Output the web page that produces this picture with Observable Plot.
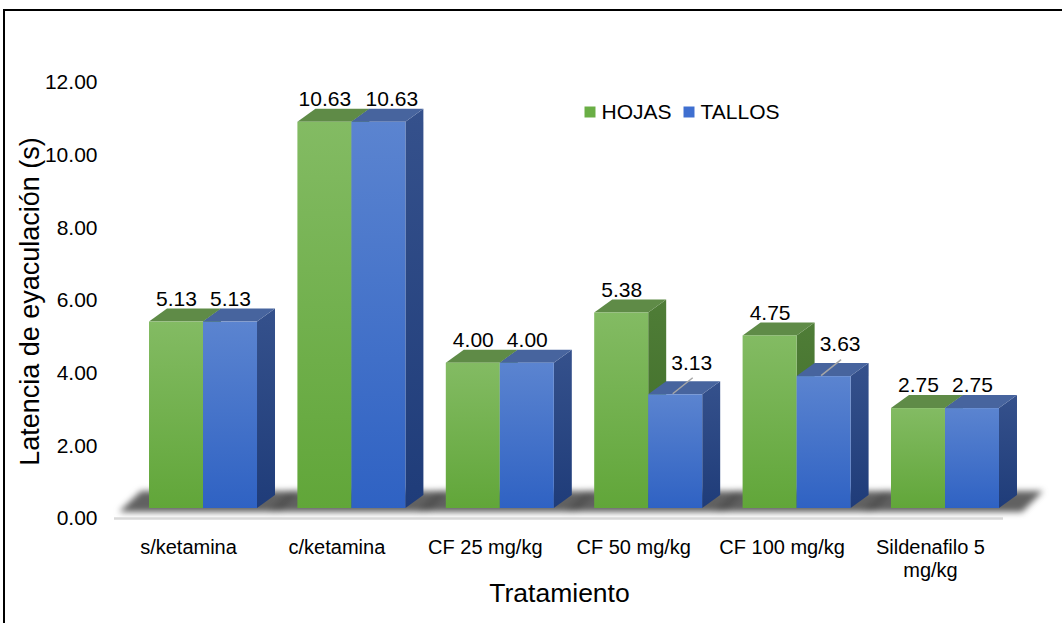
<!DOCTYPE html>
<html lang="es">
<head>
<meta charset="utf-8">
<title>Latencia de eyaculación por tratamiento</title>
<script src="https://cdn.jsdelivr.net/npm/d3@7"></script>
<script src="https://cdn.jsdelivr.net/npm/@observablehq/plot@0.6"></script>
<style>
  html, body { margin: 0; padding: 0; background: #fff; }
  #wrap { position: relative; width: 1062px; height: 623px; overflow: hidden; }
  #wrap svg { display: block; }
  #edge { position: absolute; left: 3px; top: 9px; right: -4px; bottom: -4px;
          border-top: 2px solid #000; border-left: 2px solid #000; pointer-events: none; }
</style>
</head>
<body>
<div id="wrap"><div id="edge"></div></div>
<script>
// Tratamientos (eje X)
const categories = ["s/ketamina", "c/ketamina", "CF 25 mg/kg", "CF 50 mg/kg", "CF 100 mg/kg", "Sildenafilo 5\nmg/kg"];
// Series
const seriesNames = ["HOJAS", "TALLOS"];
const hojas  = [5.13, 10.63, 4.00, 5.38, 4.75, 2.75];
const tallos = [5.13, 10.63, 4.00, 3.13, 3.63, 2.75];
// Eje Y
const yTicks = [0, 2, 4, 6, 8, 10, 12];

const W = 1062, H = 623;
const margin = {top: 72, right: 25, bottom: 115, left: 111};
const xDomain = [-0.62, 5.62];
const yDomain = [0, 12];
const kx = (W - margin.left - margin.right) / (xDomain[1] - xDomain[0]); // px por categoría
const ky = (H - margin.top - margin.bottom) / (yDomain[1] - yDomain[0]); // px por segundo

// geometría de las columnas 3D (en unidades de datos)
const barW = 54 / kx, depthX = 18 / kx, depthY = 13 / ky;

const palette = {
  HOJAS:  {top: "#5f8b47", legend: "#6aae45"},
  TALLOS: {top: "#47649e", legend: "#3f6fd0"}
};

const fmt = d3.format(".2f");

const bars = [];
seriesNames.forEach((s, k) => {
  const values = k === 0 ? hojas : tallos;
  categories.forEach((c, i) => {
    const x1 = i - barW + k * barW;
    bars.push({id: `${s}-${i}`, series: s, cat: c, i, value: values[i], x1, x2: x1 + barW, xc: x1 + barW / 2});
  });
});
const bySeries = s => bars.filter(b => b.series === s);

// caras superiores (paralelogramos horizontales)
const topFace = s => bySeries(s).flatMap(b => [
  {id: b.id, y: b.value, x1: b.x1, x2: b.x2},
  {id: b.id, y: b.value + depthY, x1: b.x1 + depthX, x2: b.x2 + depthX}
]);
// caras laterales (paralelogramos verticales)
const sideFace = s => bySeries(s).flatMap(b => [
  {id: b.id, x: b.x2, y1: 0, y2: b.value},
  {id: b.id, x: b.x2 + depthX, y1: depthY, y2: b.value + depthY}
]);
// sombra en el suelo por grupo
const shadows = categories.flatMap((c, i) => {
  const gL = i - barW, gR = i + barW;
  return [
    {id: i, y: -4 / ky, x1: gL - 30 / kx, x2: gR + 23 / kx},
    {id: i, y: 17 / ky, x1: gL - 8 / kx, x2: gR + 44 / kx}
  ];
});

// etiqueta desplazada con línea guía cuando la columna vecina la tapa
const needsCallout = b => b.series === "TALLOS" && hojas[b.i] - b.value > 0.5;
// etiquetas gemelas demasiado anchas: la segunda se corre a la derecha
const labelShift = b => (b.series === "TALLOS" && hojas[b.i] === b.value && fmt(b.value).length > 4) ? 13 : 0;
const plainLabels = bars.filter(b => !needsCallout(b));
const calloutLabels = bars.filter(needsCallout);

const font = "'Liberation Sans', Arial, Helvetica, sans-serif";
const pxX = px => xDomain[0] + (px - margin.left) / kx;

// leyenda: posición de cada muestra respecto a la esquina superior izquierda del marco
const legendItems = seriesNames.map((s, k) => ({name: s, color: palette[s].legend, offset: k * 99}));

const chart = Plot.plot({
  width: W, height: H,
  marginTop: margin.top, marginRight: margin.right, marginBottom: margin.bottom, marginLeft: margin.left,
  x: {type: "linear", domain: xDomain, axis: null},
  y: {domain: yDomain, axis: null},
  style: {fontFamily: font, fontSize: "20px", color: "#000", background: "transparent", overflow: "visible"},
  marks: [
    // suelo
    Plot.areaX(shadows, {y: "y", x1: "x1", x2: "x2", z: "id", fill: "#505050", fillOpacity: 0.9, imageFilter: "blur(3px)"}),
    Plot.ruleY([0], {x1: pxX(114), x2: pxX(1003), dy: 10, stroke: "#d9d9d9", strokeWidth: 2.5}),
    // HOJAS
    Plot.areaY(sideFace("HOJAS"), {x: "x", y1: "y1", y2: "y2", z: "id", fill: "url(#gSide)"}),
    Plot.areaX(topFace("HOJAS"), {y: "y", x1: "x1", x2: "x2", z: "id", fill: palette.HOJAS.top}),
    Plot.rect(bySeries("HOJAS"), {x1: "x1", x2: "x2", y1: 0, y2: "value", fill: "url(#gFront)"}),
    // TALLOS
    Plot.areaY(sideFace("TALLOS"), {x: "x", y1: "y1", y2: "y2", z: "id", fill: "url(#bSide)"}),
    Plot.areaX(topFace("TALLOS"), {y: "y", x1: "x1", x2: "x2", z: "id", fill: palette.TALLOS.top}),
    Plot.rect(bySeries("TALLOS"), {x1: "x1", x2: "x2", y1: 0, y2: "value", fill: "url(#bFront)"}),
    // etiquetas de valor
    Plot.text(plainLabels, {x: d => d.xc + labelShift(d) / kx, y: "value", text: d => fmt(d.value), dy: -23, fontSize: 21, fill: "#000"}),
    Plot.link(calloutLabels, {
      x1: d => d.xc - 3 / kx, y1: d => d.value + 1 / ky,
      x2: d => d.xc + 17 / kx, y2: d => d.value + 17 / ky,
      stroke: "#a6a6a6", strokeWidth: 1.5
    }),
    Plot.text(calloutLabels, {x: "xc", y: "value", text: d => fmt(d.value), dx: 16, dy: -32, fontSize: 21, fill: "#000"}),
    // eje Y
    Plot.text(yTicks, {y: d => d, text: d => fmt(d), frameAnchor: "left", textAnchor: "end", dx: -14, dy: 10, fontSize: 21, fill: "#000"}),
    Plot.text(["Latencia de eyaculación (s)"], {frameAnchor: "left", textAnchor: "middle", rotate: -90, dx: -81, dy: 11, fontSize: 27, fill: "#000"}),
    // eje X
    Plot.text(categories, {x: (d, i) => i, y: 0, text: d => d, lineAnchor: "top", dx: -15, dy: 29, lineHeight: 1.15, fill: "#000"}),
    Plot.text(["Tratamiento"], {frameAnchor: "bottom", dx: -15, dy: 93, fontSize: 26.5, fill: "#000"}),
    // leyenda
    ...legendItems.map(it => Plot.dot([it], {frameAnchor: "top-left", dx: 478.5 + it.offset, dy: 39.5, symbol: "square", r: 6.2, fill: it.color})),
    ...legendItems.map(it => Plot.text([it], {frameAnchor: "top-left", text: "name", textAnchor: "start", lineAnchor: "middle",
      dx: 490 + it.offset, dy: 39.5, fontSize: 21, fill: "#000"}))
  ]
});

// gradientes de las caras
const ns = "http://www.w3.org/2000/svg";
const defs = document.createElementNS(ns, "defs");
const grads = {
  gFront: ["#83bb63", "#61a639"],
  bFront: ["#5b84d0", "#2f62c3"],
  gSide:  ["#4f7d37", "#3e6b27"],
  bSide:  ["#35518c", "#1f3c79"]
};
for (const [id, [c0, c1]] of Object.entries(grads)) {
  const g = document.createElementNS(ns, "linearGradient");
  g.setAttribute("id", id);
  g.setAttribute("x1", "0"); g.setAttribute("y1", "0"); g.setAttribute("x2", "0"); g.setAttribute("y2", "1");
  [[0, c0], [1, c1]].forEach(([o, c]) => {
    const st = document.createElementNS(ns, "stop");
    st.setAttribute("offset", o); st.setAttribute("stop-color", c);
    g.appendChild(st);
  });
  defs.appendChild(g);
}
chart.insertBefore(defs, chart.firstChild);

document.getElementById("wrap").prepend(chart);
</script>
</body>
</html>
